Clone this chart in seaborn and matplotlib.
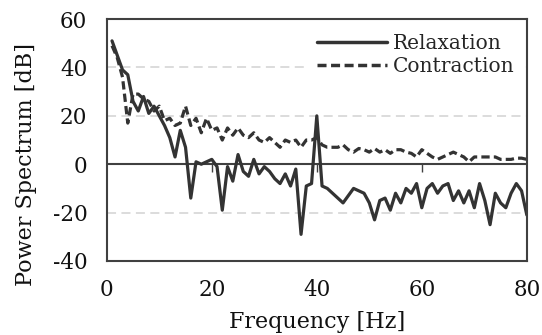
import matplotlib
matplotlib.use("Agg")
import matplotlib.pyplot as plt
import seaborn as sns
import pandas as pd
import numpy as np

# spectrum values (1 Hz steps)
freq = list(range(1, 81))
relaxation = [51, 45, 39, 37, 26, 22, 28, 21, 24, 20,
              16, 11, 3, 14, 7, -14, 1, 0, 1, 2,
              -1, -19, -1, -7, 4, -3, -5, 2, -4, -1,
              -3, -6, -8, -4, -9, -2, -29, -9, -8, 20,
              -9, -10, -12, -14, -16, -13, -10, -11, -12, -16,
              -23, -15, -14, -19, -12, -16, -10, -12, -8, -18,
              -10, -8, -12, -9, -8, -15, -11, -16, -11, -18,
              -8, -15, -25, -12, -16, -18, -12, -8, -11, -21]
contraction = [49, 44, 36, 17, 29, 29, 27, 26, 22, 24,
               18, 19, 16, 17, 24, 16, 19, 13, 19, 14,
               15, 10, 15, 12, 15, 12, 11, 13, 10, 9,
               11, 9, 7, 10, 9, 10, 7, 10, 10, 11,
               8, 7, 7, 7, 8, 6, 5, 6.5, 6, 5,
               6.5, 5, 6, 4.5, 6, 6, 5, 4.5, 3, 6,
               4.5, 3, 2, 3, 4, 5, 4, 3, 1, 3,
               3, 3, 3, 3, 2, 2, 2, 2.5, 2.5, 2]

df = pd.DataFrame({"Frequency": freq, "Relaxation": relaxation, "Contraction": contraction})
df = df.melt(id_vars="Frequency", var_name="State", value_name="Power")

sns.set_style("white")
plt.rcParams["font.family"] = ["DejaVu Serif"]
plt.rcParams["axes.unicode_minus"] = False

fig = plt.figure(figsize=(5.42, 3.35), dpi=100)
ax = fig.add_axes([0.197, 0.221, 0.775, 0.722])

line_col = "#333333"
sns.lineplot(data=df, x="Frequency", y="Power", style="State", hue="State",
             palette={"Relaxation": line_col, "Contraction": line_col},
             dashes={"Relaxation": "", "Contraction": (2.6, 1.3)},
             linewidth=2.3, ax=ax)

ax.set_xlim(0, 80)
ax.set_ylim(-40, 60)
ax.set_yticks(range(-40, 61, 20))
ax.set_xticks(range(0, 81, 20))
for y in (-20, 20, 40):
    ax.axhline(y, color="#d9d9d9", lw=1.3, ls=(0, (5, 3)), zorder=0)
ax.axhline(0, color="#404040", lw=1.5, zorder=1)

for s in ax.spines.values():
    s.set_color("#404040")
    s.set_linewidth(1.5)
ax.tick_params(axis="both", length=0, labelsize=15.5, labelcolor="#111111")
ax.tick_params(axis="y", pad=14)
ax.tick_params(axis="x", pad=13)

# tick marks on the zero line (Excel-style crossing axis)
ax2 = ax.twiny()
ax2.set_xlim(0, 80)
ax2.set_xticks(range(20, 80, 20))
ax2.set_xticklabels([])
ax2.spines["bottom"].set_position(("data", 0))
ax2.spines["bottom"].set_visible(False)
for k in ("top", "left", "right"):
    ax2.spines[k].set_visible(False)
ax2.xaxis.set_ticks_position("bottom")
ax2.tick_params(axis="x", direction="out", length=6, width=1, color="#404040")

ax.set_xlabel("Frequency [Hz]", fontsize=16, color="#111111")
ax.set_ylabel("Power Spectrum [dB]", fontsize=16, color="#111111")
ax.xaxis.set_label_coords(0.5, -0.205)
ax.yaxis.set_label_coords(-0.165, 0.4)

leg = ax.legend(loc="upper right", bbox_to_anchor=(1.0, 0.99), frameon=True,
                fontsize=14.5, handlelength=3.5, handletextpad=0.3,
                borderaxespad=0.2, labelspacing=0.2)
leg.get_frame().set_edgecolor("none")
leg.get_frame().set_facecolor("white")
leg.get_frame().set_alpha(1)
for h in leg.get_lines():
    h.set_linewidth(2.5)

fig.savefig("out.png", dpi=100)
